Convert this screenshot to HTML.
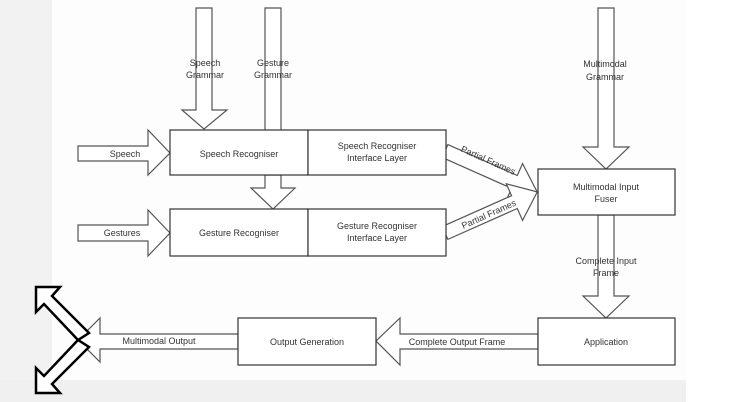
<!DOCTYPE html>
<html><head><meta charset="utf-8"><style>
html,body{margin:0;padding:0;background:#fff;}
svg{display:block;}
text{font-family:"Liberation Sans",sans-serif;font-size:9px;fill:#333;text-anchor:middle;}
</style></head><body>
<svg width="752" height="402" viewBox="0 0 752 402" xmlns="http://www.w3.org/2000/svg">
<rect x="0" y="0" width="752" height="402" fill="#fff"/>
<rect x="0" y="0" width="52" height="402" fill="#f2f2f2"/>
<rect x="52" y="0" width="634" height="380" fill="#fdfdfd"/>
<rect x="0" y="380" width="686" height="22" fill="#f0f0f0"/>
<g fill="#fff" stroke="#555" stroke-width="1.2">
<!-- speech grammar -->
<polygon points="196,8 212,8 212,110 227,110 204,129 182,110 196,110"/>
<!-- gesture grammar into box -->
<polyline points="265,130 265,8 281,8 281,130"/>
<!-- gesture arrow below -->
<polygon points="265,175 281,175 281,188 295,188 273,209 251,188 265,188"/>
<!-- speech input -->
<polygon points="78,146 148,146 148,130 170,153 148,175 148,161 78,161"/>
<polygon points="78,225 148,225 148,210 170,233 148,256 148,241 78,241"/>
<!-- multimodal grammar -->
<polygon points="598,8 614,8 614,147 629,147 606,169 583,147 598,147"/>
<!-- complete input -->
<polygon points="598,215 614,215 614,296 629,296 606,318 583,296 598,296"/>
<!-- complete output -->
<polygon points="538,334 400,334 400,318 376,341 400,365 400,349 538,349"/>
<!-- multimodal output -->
<polygon points="238,334 100,334 100,318 78,340 100,362 100,349 238,349"/>
<!-- partial frames -->
<g transform="translate(445,151) rotate(24)"><polygon points="0,-7 76,-7 76,-20 101,0 76,20 76,7 0,7"/></g>
<g transform="translate(445,233) rotate(-24)"><polygon points="0,-7 76,-7 76,-20 101,0 76,20 76,7 0,7"/></g>
</g>
<g fill="#fff" stroke="#333" stroke-width="1.2">
<rect x="170" y="130" width="138" height="45"/>
<rect x="308" y="130" width="138" height="45"/>
<rect x="170" y="209" width="138" height="47"/>
<rect x="308" y="209" width="138" height="47"/>
<rect x="538" y="169" width="137" height="46"/>
<rect x="538" y="318" width="137" height="47"/>
<rect x="238" y="318" width="138" height="47"/>
</g>
<g fill="#fff" stroke="#000" stroke-width="2.5" stroke-linejoin="miter">
<polygon points="36,287 60,287 52,296 89,333 78,340 44,304 36,312"/>
<polygon points="36,393 60,393 52,384 89,347 78,340 44,376 36,368"/>
</g>
<text x="205" y="66">Speech</text><text x="205" y="78">Grammar</text>
<text x="273" y="66">Gesture</text><text x="273" y="78">Grammar</text>
<text x="605" y="67">Multimodal</text><text x="605" y="80">Grammar</text>
<text x="125" y="157">Speech</text>
<text x="122" y="236">Gestures</text>
<text x="239" y="157">Speech Recogniser</text>
<text x="239" y="236">Gesture Recogniser</text>
<text x="377" y="149">Speech Recogniser</text><text x="377" y="161">Interface Layer</text>
<text x="377" y="229">Gesture Recogniser</text><text x="377" y="241">Interface Layer</text>
<text x="606" y="190">Multimodal Input</text><text x="606" y="202">Fuser</text>
<text x="606" y="264">Complete Input</text><text x="606" y="276">Frame</text>
<text x="606" y="345">Application</text>
<text x="307" y="345">Output Generation</text>
<text x="457" y="345">Complete Output Frame</text>
<text x="159" y="344">Multimodal Output</text>
<text transform="translate(487,163) rotate(24)">Partial Frames</text>
<text transform="translate(490,217) rotate(-24)">Partial Frames</text>
</svg>
</body></html>
